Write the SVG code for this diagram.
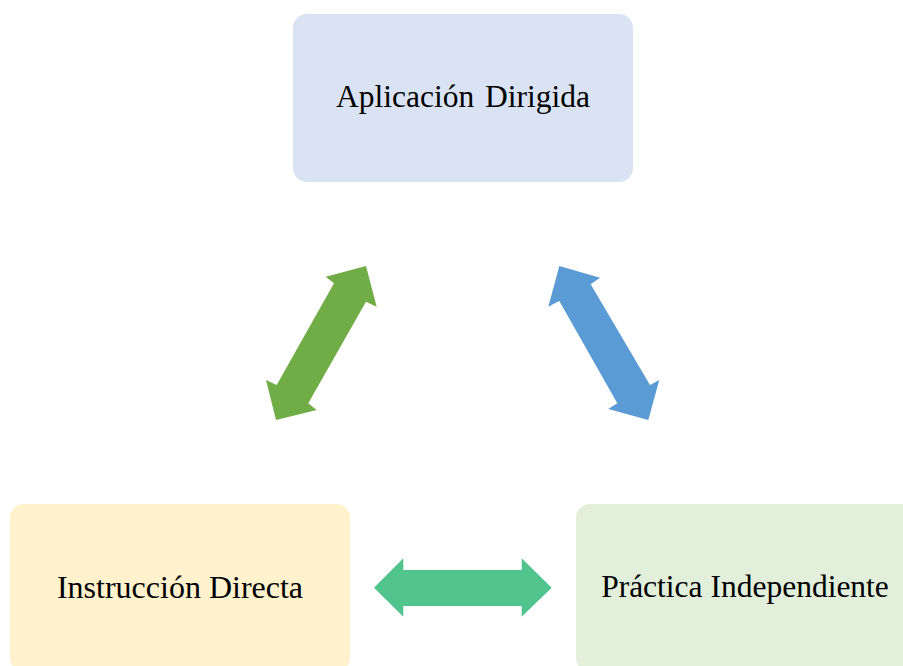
<svg xmlns="http://www.w3.org/2000/svg" width="903" height="666" viewBox="0 0 903 666">
<style>
.box{stroke:none}
.lbl{font-family:"Liberation Serif","Times New Roman",serif;font-size:32px;fill:#000;text-anchor:middle}
</style>
<rect width="903" height="666" fill="#fff"/>
<g id="connectors">
<polygon fill="#70AD47" points="366,266 376.7,306.7 366,301.7 308.3,403.3 316.7,410 276,420 266,380 276.7,385 334,283.3 325.7,276.7"/>
<polygon fill="#5B9BD5" points="559.3,266 600,277.7 590.7,284.3 650,385 659.3,380 648.3,420 608.3,409 617.3,403.3 559.3,301 548.3,306.7"/>
<polygon fill="#50C48C" points="374,587.7 403.3,558.3 403.3,570 521.7,570 521.7,558.3 551.7,587.7 521.7,616.7 521.7,606 403.3,606 403.3,616.7"/>
</g>
<g id="node-aplicacion">
<rect class="box" x="293" y="14" width="340" height="168" rx="14" fill="#DAE3F3"/>
<text class="lbl" x="463" y="107" style="font-size:31.5px;word-spacing:3px">Aplicación Dirigida</text>
</g>
<g id="node-instruccion">
<rect class="box" x="10" y="504" width="340" height="168" rx="14" fill="#FFF2CC"/>
<text class="lbl" x="180" y="598">Instrucción Directa</text>
</g>
<g id="node-practica">
<rect class="box" x="576" y="504" width="340" height="168" rx="14" fill="#E2EFDA"/>
<text class="lbl" x="745" y="597" style="font-size:31.5px">Práctica Independiente</text>
</g>
</svg>
